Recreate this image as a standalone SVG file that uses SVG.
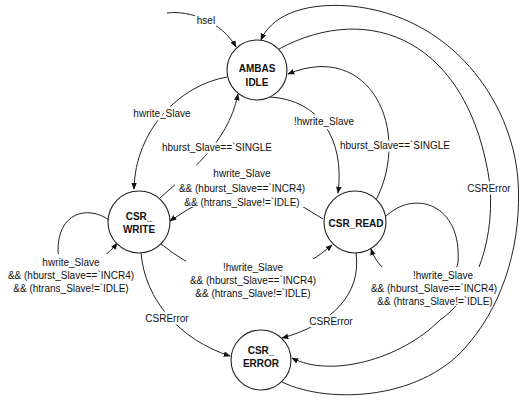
<svg xmlns="http://www.w3.org/2000/svg" width="522" height="400" viewBox="0 0 522 400">
<defs>
<marker id="arr" viewBox="0 0 10 10" refX="9" refY="5" markerWidth="7" markerHeight="7" markerUnits="userSpaceOnUse" orient="auto"><path d="M0,1 L10,5 L0,9 z" fill="#111"/></marker>
<style>
.node circle{fill:#fff;stroke:#222;stroke-width:1.1}
.node text{font-family:"Liberation Sans",Arial,sans-serif;font-weight:bold;font-size:10px;text-anchor:middle;fill:#111}
.edge{fill:none;stroke:#222;stroke-width:1}
.lbl{font-family:"Liberation Sans",Arial,sans-serif;font-size:10px;text-anchor:middle;fill:#111}
.halo{paint-order:stroke;stroke:#fff;stroke-width:5;stroke-linejoin:round}
.bg{fill:#fff}
</style>
</defs>
<rect width="522" height="400" fill="#fff"/>
<g id="connectors">
<path class="edge" d="M167,13 C190,10 222,22 236,47" marker-end="url(#arr)"/>
<path class="edge" d="M227,77 C180,85 135,130 134,189" marker-end="url(#arr)"/>
<path class="edge" d="M160,198 C185,175 228,145 238,94" marker-end="url(#arr)"/>
<path class="edge" d="M270,97 C320,100 345,140 338,193" marker-end="url(#arr)"/>
<path class="edge" d="M376,200 C412,130 370,40 288,74" marker-end="url(#arr)"/>
<path class="edge" d="M323,219 Q246,165 170,221" marker-end="url(#arr)"/>
<path class="edge" d="M161,244 Q250,315 332,245" marker-end="url(#arr)"/>
<path class="edge" d="M109,220 C88,205 57,212 58,252 C60,270 100,268 117,243" marker-end="url(#arr)"/>
<path class="edge" d="M385,217 C415,188 462,205 458,262 C455,292 385,292 371,249" marker-end="url(#arr)"/>
<path class="edge" d="M141,253 C145,300 180,340 230,356" marker-end="url(#arr)"/>
<path class="edge" d="M356,253 C362,295 330,325 282,338" marker-end="url(#arr)"/>
<path class="edge" d="M279,49 C370,0 470,40 490,185 C495,250 470,300 440,320 C400,360 330,378 292,358" marker-end="url(#arr)"/>
<path class="edge" d="M282,382 C330,405 425,400 470,342 C505,300 522,240 518,180 C512,100 450,15 350,6 C300,2 270,18 261,40" marker-end="url(#arr)"/>
</g>
<g id="edge-labels">
<text class="lbl halo" x="206" y="23.5">hsel</text>
<text class="lbl halo" x="162" y="116.5">hwrite_Slave</text>
<text class="lbl halo" x="217" y="150.5">hburst_Slave==`SINGLE</text>
<text class="lbl halo" x="324" y="124.5">!hwrite_Slave</text>
<text class="lbl halo" x="395" y="148.5">hburst_Slave==`SINGLE</text>
<text class="lbl halo" x="489" y="191.5">CSRError</text>
<text class="lbl halo" x="167" y="321.5">CSRError</text>
<text class="lbl halo" x="331" y="324.5">CSRError</text>
<rect class="bg" x="175" y="165" width="136" height="42"/>
<text class="lbl" x="242" y="176.5">hwrite_Slave</text>
<text class="lbl" x="242" y="191.5">&amp;&amp; (hburst_Slave==`INCR4)</text>
<text class="lbl" x="242" y="205.5">&amp;&amp; (htrans_Slave!=`IDLE)</text>
<rect class="bg" x="186" y="259" width="134" height="39"/>
<text class="lbl" x="253" y="270.5">!hwrite_Slave</text>
<text class="lbl" x="253" y="283.5">&amp;&amp; (hburst_Slave==`INCR4)</text>
<text class="lbl" x="253" y="296.5">&amp;&amp; (htrans_Slave!=`IDLE)</text>
<rect class="bg" x="6" y="254" width="130" height="39"/>
<text class="lbl" x="71" y="265.5">hwrite_Slave</text>
<text class="lbl" x="71" y="278.5">&amp;&amp; (hburst_Slave==`INCR4)</text>
<text class="lbl" x="71" y="291.5">&amp;&amp; (htrans_Slave!=`IDLE)</text>
<rect class="bg" x="376" y="267" width="116" height="39"/>
<text class="lbl" x="443" y="278.5">!hwrite_Slave</text>
<text class="lbl" x="434" y="291.5">&amp;&amp; (hburst_Slave==`INCR4)</text>
<text class="lbl" x="435" y="304.5">&amp;&amp; (htrans_Slave!=`IDLE)</text>
</g>
<g id="AMBAS_IDLE" class="node">
<circle cx="257" cy="70" r="30"/>
<text x="257" y="71.5">AMBAS</text>
<text x="257" y="86">IDLE</text>
</g>
<g id="CSR_WRITE" class="node">
<circle cx="139" cy="222" r="31"/>
<text x="139" y="219.5">CSR_</text>
<text x="139" y="233">WRITE</text>
</g>
<g id="CSR_READ" class="node">
<circle cx="355" cy="222" r="31"/>
<text x="356" y="227">CSR_READ</text>
</g>
<g id="CSR_ERROR" class="node">
<circle cx="261" cy="360" r="30"/>
<text x="261" y="353.5">CSR_</text>
<text x="261" y="367">ERROR</text>
</g>
</svg>
